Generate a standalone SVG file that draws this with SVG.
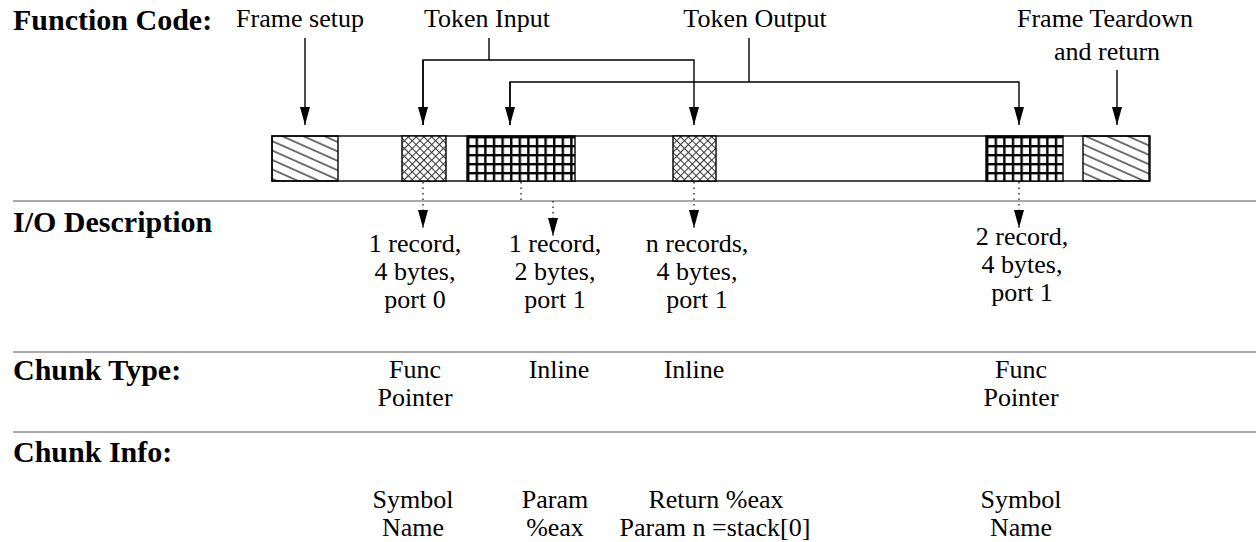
<svg xmlns="http://www.w3.org/2000/svg" width="1256" height="542" viewBox="0 0 1256 542">
<style>
.lbl{font-family:"Liberation Serif","Times New Roman",serif;font-weight:bold;font-size:30px;fill:#000}
.t{font-family:"Liberation Serif","Times New Roman",serif;font-size:26px;fill:#000}
.c{text-anchor:middle}
.sep{stroke:#8c8c8c;stroke-width:1.6;fill:none}
.con{stroke:#000;stroke-width:1.4;fill:none}
.dot{stroke:#000;stroke-width:1.2;stroke-dasharray:1.5,4;fill:none}
.blk{stroke:#000;stroke-width:1.4}
</style>
<defs>
<marker id="ah" viewBox="0 0 18 10" refX="18" refY="5" markerWidth="18" markerHeight="10" markerUnits="userSpaceOnUse" orient="auto">
<path d="M0,0 L18,5 L0,10 z" fill="#000"/>
</marker>
<pattern id="hatch" patternUnits="userSpaceOnUse" width="20" height="8.6" patternTransform="rotate(24)">
<line x1="0" y1="1" x2="20" y2="1" stroke="#000" stroke-width="1.1"/>
</pattern>
<pattern id="cross" patternUnits="userSpaceOnUse" width="5.5" height="5.5" patternTransform="rotate(45)">
<rect width="5.5" height="5.5" fill="#fff"/>
<line x1="0" y1="0.5" x2="5.5" y2="0.5" stroke="#333" stroke-width="1"/>
<line x1="0.5" y1="0" x2="0.5" y2="5.5" stroke="#333" stroke-width="1"/>
</pattern>
<pattern id="grid" patternUnits="userSpaceOnUse" width="8.6" height="9">
<rect width="8.6" height="9" fill="#000"/>
<rect x="2.4" y="2.4" width="6.2" height="6.6" fill="#fff"/>
</pattern>
</defs>

<g id="labels">
<text class="lbl" x="13" y="30">Function Code:</text>
<text class="lbl" x="13" y="232">I/O Description</text>
<text class="lbl" x="13" y="380">Chunk Type:</text>
<text class="lbl" x="13" y="462">Chunk Info:</text>
</g>

<g id="separators">
<line class="sep" x1="13" y1="201" x2="1256" y2="201"/>
<line class="sep" x1="13" y1="352" x2="1256" y2="352"/>
<line class="sep" x1="13" y1="432" x2="1256" y2="432"/>
</g>

<g id="callouts">
<text class="t c" x="300" y="27">Frame setup</text>
<text class="t c" x="487" y="27">Token Input</text>
<text class="t c" x="755" y="27">Token Output</text>
<text class="t c" x="1105" y="27">Frame Teardown</text>
<text class="t c" x="1107" y="60">and return</text>
</g>

<g id="bar">
<rect x="272" y="136" width="878" height="45" fill="#fff" stroke="#000" stroke-width="1.4"/>
</g>
<g id="frame-setup"><rect class="blk" x="272" y="136" width="66" height="45" fill="url(#hatch)"/></g>
<g id="token-in-1"><rect class="blk" x="402" y="136" width="44" height="45" fill="url(#cross)"/></g>
<g id="token-out-1" transform="translate(467,136)">
<rect width="34" height="45" fill="url(#grid)"/>
<rect x="34" width="35" height="45" fill="url(#grid)"/>
<rect x="69" width="39" height="45" fill="url(#grid)"/>
<rect width="108" height="45" fill="none" stroke="#000" stroke-width="1.4"/>
</g>
<g id="token-in-2"><rect class="blk" x="673" y="136" width="43" height="45" fill="url(#cross)"/></g>
<g id="token-out-2" transform="translate(986,136)">
<rect width="34" height="45" fill="url(#grid)"/>
<rect x="34" width="43" height="45" fill="url(#grid)"/>
<rect width="77" height="45" fill="none" stroke="#000" stroke-width="1.4"/>
</g>
<g id="frame-teardown"><rect class="blk" x="1083" y="136" width="66" height="45" fill="url(#hatch)"/></g>

<g id="connectors">
<line class="con" x1="305" y1="38" x2="305" y2="125" marker-end="url(#ah)"/>
<polyline class="con" points="489,38 489,60"/>
<polyline class="con" points="423,125 423,60 694,60 694,125" marker-end="url(#ah)"/>
<line class="con" x1="423" y1="60" x2="423" y2="125" marker-end="url(#ah)"/>
<polyline class="con" points="749,38 749,82"/>
<polyline class="con" points="510,125 510,82 1019,82 1019,125" marker-end="url(#ah)"/>
<line class="con" x1="510" y1="82" x2="510" y2="125" marker-end="url(#ah)"/>
<line class="con" x1="1117" y1="70" x2="1117" y2="125" marker-end="url(#ah)"/>
<line class="dot" x1="423" y1="182" x2="423" y2="228" marker-end="url(#ah)"/>
<line class="dot" x1="521" y1="182" x2="521" y2="201"/>
<line class="dot" x1="553" y1="201" x2="553" y2="236" marker-end="url(#ah)"/>
<line class="dot" x1="694" y1="182" x2="694" y2="228" marker-end="url(#ah)"/>
<line class="dot" x1="1019" y1="182" x2="1019" y2="228" marker-end="url(#ah)"/>
</g>

<g id="io-1"><text class="t c" x="415" y="252">1 record,</text><text class="t c" x="415" y="280">4 bytes,</text><text class="t c" x="415" y="308">port 0</text></g>
<g id="io-2"><text class="t c" x="555" y="252">1 record,</text><text class="t c" x="555" y="280">2 bytes,</text><text class="t c" x="555" y="308">port 1</text></g>
<g id="io-3"><text class="t c" x="697" y="252">n records,</text><text class="t c" x="697" y="280">4 bytes,</text><text class="t c" x="697" y="308">port 1</text></g>
<g id="io-4"><text class="t c" x="1022" y="245">2 record,</text><text class="t c" x="1022" y="273">4 bytes,</text><text class="t c" x="1022" y="301">port 1</text></g>

<g id="type-1"><text class="t c" x="415" y="378">Func</text><text class="t c" x="415" y="406">Pointer</text></g>
<g id="type-2"><text class="t c" x="559" y="378">Inline</text></g>
<g id="type-3"><text class="t c" x="694" y="378">Inline</text></g>
<g id="type-4"><text class="t c" x="1021" y="378">Func</text><text class="t c" x="1021" y="406">Pointer</text></g>

<g id="info-1"><text class="t c" x="413" y="508">Symbol</text><text class="t c" x="413" y="536">Name</text></g>
<g id="info-2"><text class="t c" x="555" y="508">Param</text><text class="t c" x="555" y="536">%eax</text></g>
<g id="info-3"><text class="t c" x="716" y="508">Return %eax</text><text class="t c" x="715" y="536">Param n =stack[0]</text></g>
<g id="info-4"><text class="t c" x="1021" y="508">Symbol</text><text class="t c" x="1021" y="536">Name</text></g>
</svg>
